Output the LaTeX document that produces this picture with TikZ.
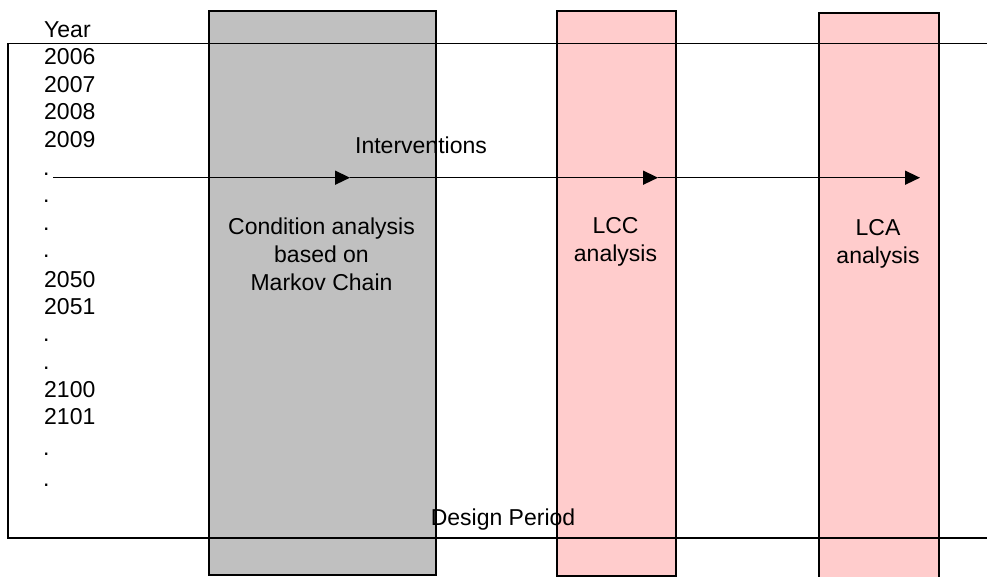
\documentclass[tikz,border=0pt]{standalone}
\usepackage{fontspec}
\setmainfont{Liberation Sans}
\usetikzlibrary{arrows.meta}
\definecolor{boxgray}{RGB}{192,192,192}
\definecolor{boxpink}{RGB}{255,204,204}
\begin{document}
\begin{tikzpicture}[x=1pt,y=-1pt,
  lbl/.style={inner sep=0pt, font=\fontsize{23}{27.8}\selectfont},
  yr/.style={lbl, anchor=base west},
  boxtxt/.style={lbl, anchor=base, align=center},
  column/.style={draw=black, line width=1.5pt, inner sep=0pt, anchor=north west},
  frame/.style={draw=black, line width=1.5pt},
  flow/.style={draw=black, line width=1.5pt, -{Triangle[length=15pt,width=14pt]}}]
\useasboundingbox (0,0) rectangle (987,576);
\begin{scope}
\clip (0,0) rectangle (987,576);
% columns
\node[column, fill=boxgray, minimum width=227, minimum height=564] (cond) at (208,10) {};
\node[column, fill=boxpink, minimum width=119, minimum height=565] (lcc) at (556,10) {};
\node[column, fill=boxpink, minimum width=120, minimum height=580] (lca) at (818,12) {};
% frame (open to the right)
\coordinate (ftr) at (995,43.5);
\coordinate (ftl) at (8,43.5);
\coordinate (fbl) at (8,538);
\coordinate (fbr) at (995,538);
\draw[frame] (ftr) -- (ftl) -- (fbl) -- (fbr);
% intervention flow
\coordinate (a0) at (53,177.7);
\coordinate (a1) at (350,177.7);
\coordinate (a2) at (658,177.7);
\coordinate (a3) at (920,177.7);
\draw[flow] (a0) -- (a1);
\draw[flow] (a1) -- (a2);
\draw[flow] (a2) -- (a3);
\end{scope}
% labels
\node[lbl, anchor=base] (interv) at (421,153) {Interventions};
\node[lbl, anchor=base] (design) at (503,525) {Design Period};
\node[boxtxt] (condtxt) at (321.5,290) {Condition analysis\\based on\\Markov Chain};
\node[boxtxt] (lcctxt) at (615.5,261) {LCC\\analysis};
\node[boxtxt] (lcatxt) at (878,263) {LCA\\analysis};
% year column
\node[yr] (y0) at (44,37) {Year};
\node[yr] (y1) at (44,64.5) {2006};
\node[yr] (y2) at (44,92) {2007};
\node[yr] (y3) at (44,119.5) {2008};
\node[yr] (y4) at (44,147) {2009};
\node[yr] (d1) at (43,175) {.};
\node[yr] (d2) at (43,202.5) {.};
\node[yr] (d3) at (43,230) {.};
\node[yr] (d4) at (43,257.5) {.};
\node[yr] (y5) at (44,287) {2050};
\node[yr] (y6) at (44,314) {2051};
\node[yr] (d5) at (43,341.5) {.};
\node[yr] (d6) at (43,369) {.};
\node[yr] (y7) at (44,397) {2100};
\node[yr] (y8) at (44,424) {2101};
\node[yr] (d7) at (43,455.5) {.};
\node[yr] (d8) at (43,486.5) {.};
\end{tikzpicture}
\end{document}
